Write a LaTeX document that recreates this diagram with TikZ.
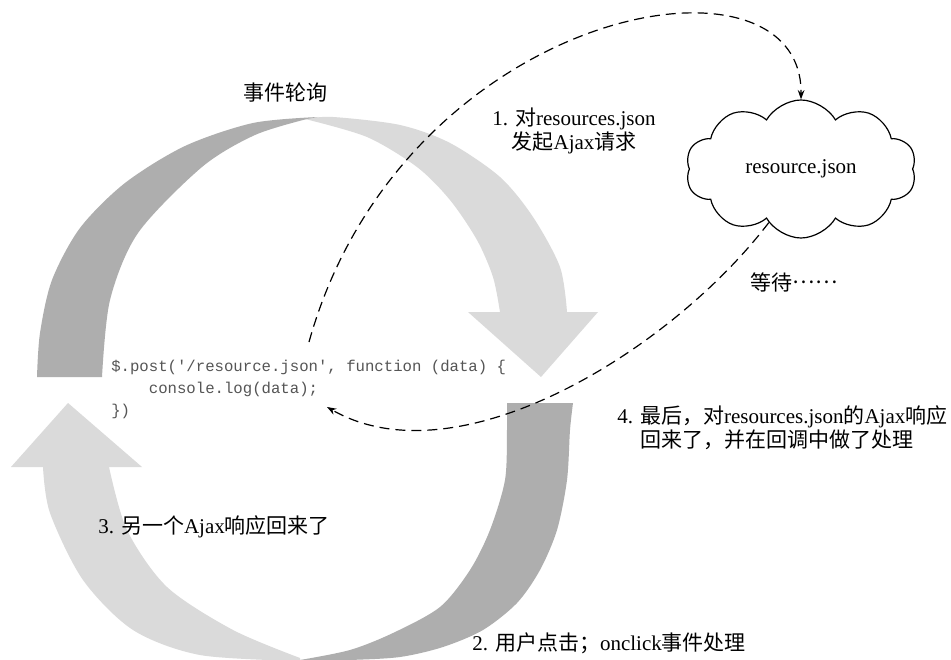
\documentclass[tikz,border=0pt]{standalone}
\usepackage{fontspec}
\setmainfont{Liberation Serif}
\setmonofont{Liberation Mono}
\newfontfamily\cjk{Noto Sans CJK SC}
\usetikzlibrary{shapes.symbols,arrows.meta}
\definecolor{bandDark}{RGB}{174,174,174}
\definecolor{bandLight}{RGB}{218,218,218}
\definecolor{codegray}{RGB}{85,85,85}
\tikzset{
  lbl/.style={inner sep=0pt, font=\fontsize{15.75pt}{18pt}\selectfont},
  codetxt/.style={inner sep=0pt, align=left, text=codegray,
    font=\ttfamily\fontsize{11.75pt}{16.5pt}\selectfont},
  darkband/.style={fill=bandDark},
  lightband/.style={fill=bandLight},
  flow/.style={draw=black, line width=0.9pt, dash pattern=on 7.5pt off 4.5pt,
    -{Stealth[length=7pt,width=5pt]}},
  cloudbox/.style={cloud, draw, line width=0.9pt, cloud puffs=10,
    cloud puff arc=120, aspect=1.67, minimum width=173pt,
    minimum height=103.5pt, inner sep=0pt,
    font=\fontsize{15.75pt}{18pt}\selectfont}
}
\begin{document}
\begin{tikzpicture}[x=0.75pt,y=-0.75pt]
\path[use as bounding box, fill=white] (0,0) rectangle (951,660);

% ---- upper loop arrow: light head part
\path[lightband] plot[smooth] coordinates {(305,119) (333,117) (400,125) (450,143) (500,177) (533,217) (560,267) (567,312)}
  -- (598,312) -- (541,377) -- (468,312) --
  plot[smooth] coordinates {(500,312) (493,277) (477,240) (450,200) (417,167) (367,137) (305,119)} -- cycle;
% ---- upper loop arrow: dark tail part
\path[darkband] plot[smooth] coordinates {(37,377) (40,333) (52,280) (80,228) (125,183) (185,146) (253,123) (318,117)}
  -- plot[smooth] coordinates {(307,119) (255,135) (202,167) (138,233) (110,300) (102,377)} -- cycle;

% ---- lower loop arrow: light head part
\path[lightband] plot[smooth] coordinates {(300,661) (200,655) (133,630) (83,580) (50,513) (43,467)}
  -- (11,467) -- (68,403) -- (142,467) --
  plot[smooth] coordinates {(109,467) (127,530) (167,587) (233,630) (300,658)} -- cycle;
% ---- lower loop arrow: dark tail part
\path[darkband] plot[smooth] coordinates {(573,403) (570,430) (567,480) (557,530) (540,570) (517,603) (483,630) (443,647) (400,657) (350,660) (300,661)}
  -- plot[smooth] coordinates {(300,660) (350,650) (393,633) (440,607) (470,570) (490,530) (505,480) (507,430) (507,403)} -- cycle;

% ---- texts
\node[lbl, anchor=base] (title) at (285,101) {{\cjk 事件轮询}};
\node[lbl, align=center] (reqlbl) at (574,131) {1. {\cjk 对}resources.json\\{\cjk 发起}Ajax{\cjk 请求}};
\node[cloudbox] (cloud) at (801,169) {resource.json};
\node[lbl] (wait) at (794,282) {{\cjk 等待\raisebox{0.3em}{……}}};
\node[codetxt, anchor=west] (code) at (111,389.5)
  {\$.post('/resource.json', function (data) \{\\\phantom{0000}console.log(data);\\\})};
\node[lbl, align=left, anchor=west] (done) at (617,427.5)
  {4. {\cjk 最后，对}resources.json{\cjk 的}Ajax{\cjk 响应}\\\phantom{4. }{\cjk 回来了，并在回调中做了处理}};
\node[lbl, anchor=west] (other) at (98,527) {3. {\cjk 另一个}Ajax{\cjk 响应回来了}};
\node[lbl, anchor=west] (click) at (472,643) {2. {\cjk 用户点击；}onclick{\cjk 事件处理}};

% ---- dashed connectors
\coordinate (req) at (309,342);
\coordinate (cbk) at (327,407);
\draw[flow] (req) .. controls (403,6) and (803,-65) .. (cloud.north);
\draw[flow] (cloud.-121) .. controls (670,352) and (457,482) .. (cbk);
\end{tikzpicture}
\end{document}
